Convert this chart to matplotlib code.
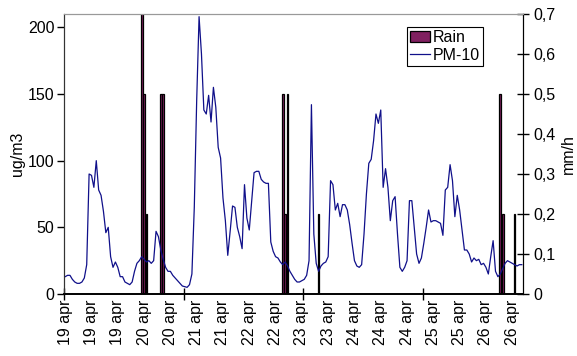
import numpy as np
import matplotlib
matplotlib.use("Agg")
import matplotlib.pyplot as plt

plt.rcParams['font.family'] = ['Liberation Sans', 'DejaVu Sans']

# hourly PM-10 (ug/m3), 19 apr 00h .. 26 apr 23h
pm10 = [13, 14, 14, 11, 9, 8, 8, 9, 12, 22, 90, 89, 80, 100, 78, 74, 62, 46, 50, 28,
        20, 24, 20, 13, 13, 9, 8, 7, 9, 17, 23, 25, 28, 26, 24, 25, 23, 25, 47, 43,
        33, 26, 20, 17, 17, 14, 12, 10, 8, 6, 5.5, 5, 7, 15, 65, 145, 208, 180, 138, 135,
        149, 129, 155, 140, 110, 102, 72, 55, 29, 47, 66, 65, 50, 43, 34, 82, 57, 48, 70, 91,
        92, 92, 86, 84, 83, 83, 39, 32, 28, 27, 24, 22, 24, 21, 17, 14, 11, 9, 9, 10,
        11, 14, 25, 142, 45, 23, 17, 21, 23, 24, 28, 85, 82, 63, 68, 58, 67, 67, 63, 52,
        38, 25, 21, 20, 22, 45, 75, 98, 101, 115, 135, 128, 138, 80, 94, 80, 55, 70, 73, 45,
        20, 17, 20, 25, 70, 70, 50, 30, 23, 27, 38, 50, 63, 54, 55, 55, 54, 53, 44, 78,
        80, 97, 85, 58, 74, 63, 48, 33, 33, 30, 24, 27, 25, 26, 22, 23, 20, 15, 28, 40,
        17, 13, 15, 19, 23, 25, 24, 23, 22, 21, 22, 22]

# rain (mm/h) at given hour index
rain_hours = [32, 33, 34, 40, 41, 91, 92, 93, 106, 182, 183, 188]
rain_values = [0.8, 0.5, 0.2, 0.5, 0.5, 0.5, 0.2, 0.5, 0.2, 0.5, 0.2, 0.2]

label_text = ["19 apr", "19 apr", "19 apr", "20 apr", "20 apr", "21 apr", "21 apr",
              "22 apr", "22 apr", "23 apr", "23 apr", "24 apr", "24 apr", "24 apr",
              "25 apr", "25 apr", "26 apr", "26 apr"]
label_pos = list(range(0, 192, 11))

fs = 11.5
fig = plt.figure(figsize=(5.77, 3.56), dpi=100)
ax = fig.add_axes([64/577, 1-294/356, 459/577, 280/356])
ax2 = ax.twinx()

hours = np.arange(len(pm10))
bars = ax2.bar(rain_hours, rain_values, width=0.7, color='#802060',
               edgecolor='black', linewidth=0.9, label='Rain')
line, = ax.plot(hours, pm10, color='#10108a', lw=0.9, label='PM-10')

ax.set_zorder(ax2.get_zorder() + 1)
ax.patch.set_visible(False)

ax.set_xlim(-0.5, 191.5)
ax.set_ylim(0, 210)
ax2.set_ylim(0, 0.7)

ax.set_yticks([0, 50, 100, 150, 200])
ax.tick_params(axis='y', direction='out', length=5, width=1, labelsize=fs, pad=2)
ax2.set_yticks(np.arange(0, 0.71, 0.1))
ax2.set_yticklabels(['0', '0,1', '0,2', '0,3', '0,4', '0,5', '0,6', '0,7'])
ax2.tick_params(axis='y', direction='inout', length=9, width=1, labelsize=fs, pad=3)

ax.set_xticks(label_pos)
ax.set_xticklabels(label_text, rotation=90, fontsize=fs)
ax.tick_params(axis='x', length=0, pad=4)
ax.set_xticks([-0.5, 49.5, 99.5, 149.5], minor=True)
ax.tick_params(axis='x', which='minor', direction='inout', length=9, width=1)

for a in (ax, ax2):
    a.spines['top'].set_color('#999999')
    a.spines['bottom'].set_color('black')
    a.spines['left'].set_color('#333333')
    a.spines['right'].set_color('black')
    a.spines['bottom'].set_linewidth(1.2)

ax.set_ylabel('ug/m3', fontsize=fs, labelpad=2)
ax2.set_ylabel('mm/h', fontsize=fs, labelpad=4)

leg = ax.legend([bars, line], ['Rain', 'PM-10'], loc='upper right',
                bbox_to_anchor=(0.913, 0.955), fontsize=fs, fancybox=False,
                edgecolor='black', framealpha=1, borderpad=0.2, labelspacing=0.2,
                handlelength=1.2, handletextpad=0.2, borderaxespad=0)
leg.get_frame().set_linewidth(0.8)

fig.savefig('out.png', dpi=100)
